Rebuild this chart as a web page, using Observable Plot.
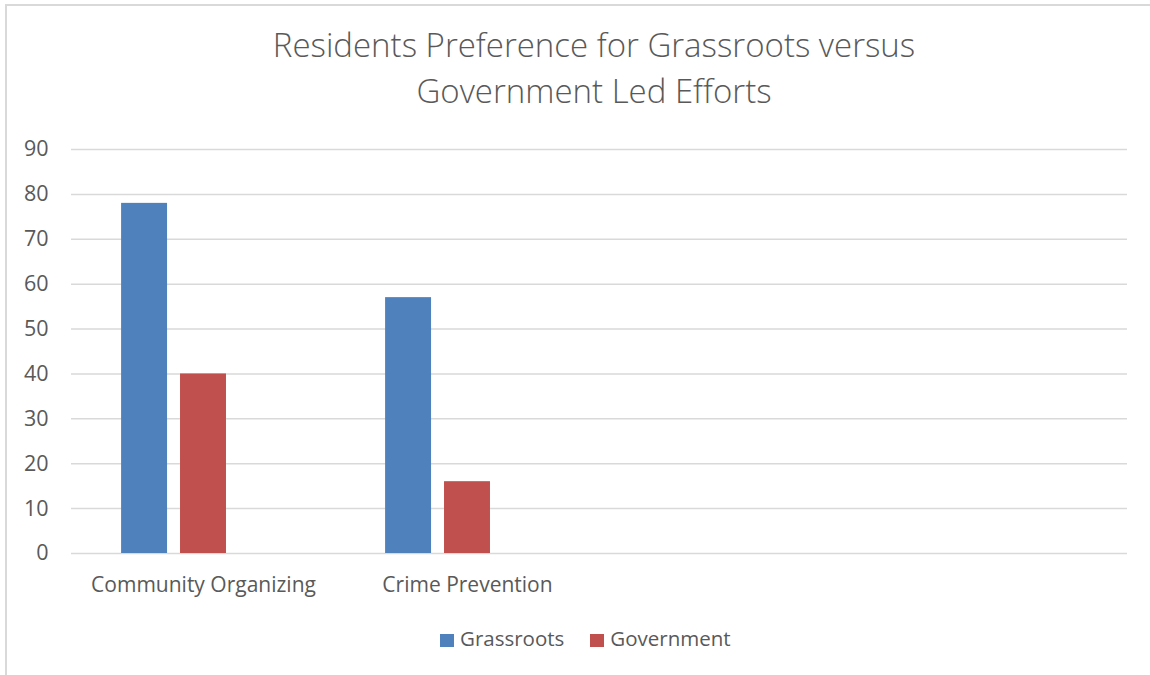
<!DOCTYPE html>
<html>
<head>
<meta charset="utf-8">
<script src="https://cdn.jsdelivr.net/npm/d3@7"></script>
<script src="https://cdn.jsdelivr.net/npm/@observablehq/plot@0.6"></script>
<style>
  html, body { margin: 0; padding: 0; background: #fff; }
  #wrap { position: relative; width: 1150px; height: 675px; overflow: hidden; background: #fff; font-family: "Open Sans", sans-serif; color: #595959; }
  #frame { position: absolute; left: 5px; top: 4px; width: 1200px; height: 700px; border-top: 2px solid #d9d9d9; border-left: 2px solid #d9d9d9; }
  #title { position: absolute; left: 594px; top: 22px; transform: translateX(-50%); text-align: center; font-size: 33px; font-weight: 300; line-height: 46px; white-space: nowrap; color: #595959; }
  #chart { position: absolute; left: 0; top: 120px; }
  #legend { position: absolute; left: 440px; top: 628px; display: flex; align-items: center; font-size: 20.5px; line-height: 20px; white-space: nowrap; }
  .item { display: flex; align-items: center; margin-right: 26px; }
  .swatch { width: 14px; height: 13px; margin-right: 6px; margin-top: 4px; }
  #chart svg g[aria-label="y-axis tick label"] { font-size: 21.5px; }
</style>
</head>
<body>
<div id="wrap">
  <div id="frame"></div>
  <div id="title">Residents Preference for Grassroots versus<br>Government Led Efforts</div>
  <div id="chart"></div>
  <div id="legend"></div>
</div>
<script>
// ---- data ----
const categories = ["Community Organizing", "Crime Prevention"];
const emptyCategorySlots = [" ", "  "];            // two empty category slots in the original chart
const series = ["Grassroots", "Government"];
const emptySeriesSlots = ["(unused series)"];      // third (empty) series slot
const grassroots = [78, 57];
const government = [40, 16];
const seriesColors = ["#4f81bd", "#c0504d"];
const yTicks = [0, 10, 20, 30, 40, 50, 60, 70, 80, 90];

// ---- build tables ----
const allCategorySlots = [...categories, ...emptyCategorySlots];
const valuesBySeries = [grassroots, government];
const rows = [];
series.forEach((s, si) => {
  categories.forEach((c, ci) => {
    rows.push({category: c, series: s, value: valuesBySeries[si][ci]});
  });
});
const gridRows = allCategorySlots.flatMap(c => yTicks.map(v => ({category: c, value: v})));

const chart = Plot.plot({
  width: 1150,
  height: 490,
  marginLeft: 70,
  marginRight: 22,
  marginTop: 29,
  marginBottom: 57,
  style: {fontFamily: "'Open Sans', sans-serif", fontSize: "21px", color: "#595959", background: "transparent", overflow: "visible"},
  fx: {
    domain: allCategorySlots,
    paddingInner: 0,
    paddingOuter: 0,
    axis: "bottom",
    tickSize: 0,
    tickPadding: 24,
    label: null
  },
  x: {
    domain: [...series, ...emptySeriesSlots],
    paddingInner: 0.22,
    paddingOuter: 0.85,
    round: false,
    axis: null
  },
  y: {
    domain: [0, 90],
    ticks: yTicks,
    tickSize: 0,
    tickPadding: 23,
    label: null
  },
  color: {domain: series, range: seriesColors},
  marks: [
    Plot.ruleY(gridRows, {fx: "category", y: "value", stroke: "#d9d9d9", strokeWidth: 1.5}),
    Plot.barY(rows, {fx: "category", x: "series", y: "value", fill: "series"})
  ]
});
document.getElementById("chart").appendChild(chart);

// ---- legend ----
const legend = document.getElementById("legend");
series.forEach((s, i) => {
  const item = document.createElement("div");
  item.className = "item";
  const sw = document.createElement("span");
  sw.className = "swatch";
  sw.style.background = seriesColors[i];
  const label = document.createElement("span");
  label.textContent = s;
  item.appendChild(sw);
  item.appendChild(label);
  legend.appendChild(item);
});
</script>
</body>
</html>
